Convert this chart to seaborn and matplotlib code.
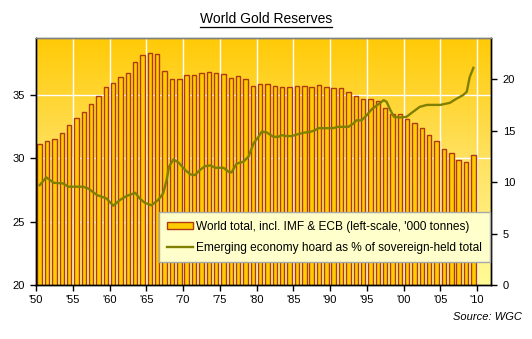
import numpy as np
import pandas as pd
import matplotlib
matplotlib.use("Agg")
import matplotlib.pyplot as plt
from matplotlib.patches import Patch
from matplotlib.lines import Line2D
from matplotlib.colors import LinearSegmentedColormap
import seaborn as sns

# ---------------- data ----------------
years = list(range(1950, 2010))
world_total = [31.14, 31.38, 31.54, 32.0, 32.65, 33.2, 33.67, 34.3, 34.94, 35.65,
               35.97, 36.44, 36.76, 37.63, 38.19, 38.35, 38.27, 36.92, 36.29, 36.29,
               36.6, 36.6, 36.76, 36.84, 36.76, 36.68, 36.37, 36.52, 36.29, 35.73,
               35.89, 35.89, 35.73, 35.65, 35.65, 35.73, 35.73, 35.65, 35.81, 35.65,
               35.57, 35.57, 35.26, 34.94, 34.7, 34.7, 34.55, 33.99, 33.51, 33.51,
               33.12, 32.8, 32.4, 31.85, 31.38, 30.74, 30.43, 29.87, 29.71, 30.27]

hoard_time = [1950.5, 1951.4, 1952.4, 1953.7, 1954.4, 1956.4, 1957.1, 1958.3, 1959.6, 1960.5,
              1961.4, 1962.3, 1963.5, 1964.1, 1964.8, 1965.7, 1966.6, 1967.3, 1967.8, 1968.1,
              1968.7, 1969.4, 1970.3, 1971.0, 1971.6, 1972.3, 1973.0, 1973.7, 1974.4, 1975.5,
              1976.2, 1976.6, 1977.3, 1978.2, 1978.9, 1979.6, 1980.2, 1980.7, 1981.4, 1982.3,
              1983.0, 1983.4, 1984.1, 1984.8, 1985.5, 1986.4, 1987.3, 1988.0, 1988.4, 1990.4,
              1991.1, 1992.5, 1993.2, 1993.6, 1994.3, 1995.0, 1995.7, 1996.6, 1997.3, 1997.7,
              1998.2, 1998.7, 1999.5, 2000.4, 2001.3, 2002.2, 2003.2, 2005.0, 2006.3, 2007.2,
              2008.1, 2008.6, 2009.0, 2009.5]
hoard_pct = [9.7, 10.46, 9.93, 9.87, 9.55, 9.55, 9.38, 8.74, 8.41, 7.7,
             8.25, 8.64, 8.96, 8.41, 7.99, 7.74, 8.25, 8.9, 10.3, 11.5,
             12.2, 11.9, 11.17, 10.75, 10.68, 11.17, 11.55, 11.62, 11.39, 11.39,
             11.0, 10.94, 11.8, 11.97, 12.46, 13.76, 14.34, 14.9, 14.82, 14.4,
             14.4, 14.56, 14.47, 14.47, 14.63, 14.79, 14.88, 15.05, 15.24, 15.24,
             15.37, 15.37, 15.7, 16.0, 16.0, 16.5, 17.1, 17.57, 17.96, 17.8,
             17.0, 16.34, 16.28, 16.34, 16.83, 17.31, 17.5, 17.5, 17.7, 18.1,
             18.45, 18.77, 20.2, 21.1]

xtick_years = list(range(1950, 2011, 5))
xtick_labels = ["'50", "'55", "'60", "'65", "'70", "'75", "'80", "'85", "'90",
                "'95", "'00", "'05", "'10"]
left_ticks = [20, 25, 30, 35]
right_ticks = [0, 5, 10, 15, 20]

title = "World Gold Reserves"
bar_label = "World total, incl. IMF & ECB (left-scale, '000 tonnes)"
line_label = "Emerging economy hoard as % of sovereign-held total"
source = "Source: WGC"

# ---------------- style ----------------
plt.rcParams['font.family'] = ['Liberation Sans', 'DejaVu Sans']
plt.rcParams['font.size'] = 8

bar_face = "#FFCC00"
bar_edge = "#B03A10"
line_col = "#808000"

fig = plt.figure(figsize=(5.32, 3.39), dpi=100)
W, H = 532, 339
L, R, T, B = 36, 491, 38, 285
ax = fig.add_axes([L / W, 1 - B / H, (R - L) / W, (B - T) / H])

# gradient background
grad = np.linspace(0, 1, 256).reshape(-1, 1)
cmap = LinearSegmentedColormap.from_list("bg", ["#FFCA06", "#FFE263", "#FFFB96"])
ax.imshow(grad, extent=[0, 1, 0, 1], transform=ax.transAxes, aspect="auto",
          cmap=cmap, zorder=0, interpolation="bilinear")

df = pd.DataFrame({"pos": [y + 0.5 for y in years], "total": world_total})
sns.barplot(data=df, x="pos", y="total", native_scale=True, width=0.6,
            color=bar_face, saturation=1, edgecolor=bar_edge, linewidth=1.0,
            errorbar=None, ax=ax, zorder=2)

ax.set_xlim(1950, 2011.9)
ax.set_ylim(20, 39.5)
ax.set_xticks(xtick_years)
ax.set_xticklabels(xtick_labels)
ax.set_yticks(left_ticks)
ax.set_xlabel("")
ax.set_ylabel("")

for xv in xtick_years:
    ax.axvline(xv, color="white", lw=1.0, zorder=1)
for yv in left_ticks[1:]:
    ax.axhline(yv, color="white", lw=1.0, zorder=1)

ax2 = ax.twinx()
dl = pd.DataFrame({"t": hoard_time, "pct": hoard_pct})
sns.lineplot(data=dl, x="t", y="pct", color=line_col, linewidth=1.7, ax=ax2)
ax2.set_ylim(0, 24)
ax2.set_yticks(right_ticks)
ax2.set_ylabel("")
ax2.set_xlim(1950, 2011.9)

for a in (ax, ax2):
    a.tick_params(direction="out", length=4.5, width=1, labelsize=8, colors="black")
    for s in ("left", "right", "bottom"):
        a.spines[s].set_color("black")
        a.spines[s].set_linewidth(1)
    a.spines["top"].set_color("#808080")
    a.spines["top"].set_linewidth(1)
ax.tick_params(axis="x", pad=3)
ax2.tick_params(axis="y", pad=4)

handles = [Patch(facecolor=bar_face, edgecolor=bar_edge, linewidth=1.0),
           Line2D([0], [0], color=line_col, lw=1.7)]
leg = ax2.legend(handles, [bar_label, line_label], loc="lower right",
                 bbox_to_anchor=(0.998, 0.093), frameon=True, fancybox=False,
                 framealpha=1, facecolor="#FFFFCC", edgecolor="#A8A8A8",
                 fontsize=8.6, handlelength=2.2, handleheight=0.5,
                 labelspacing=0.75, borderpad=0.7, handletextpad=0.2,
                 borderaxespad=0)
leg.get_frame().set_linewidth(1.0)

t = fig.text(0.5, 1 - 19 / H, title, ha="center", va="center", fontsize=10)
fig.text(522 / W, 1 - 317 / H, source, ha="right", va="center", fontsize=8,
         style="italic")

fig.canvas.draw()
bb = t.get_window_extent().transformed(fig.transFigure.inverted())
fig.add_artist(Line2D([bb.x0, bb.x1], [bb.y0 - 0.5 / H, bb.y0 - 0.5 / H],
                      transform=fig.transFigure, color="black", lw=0.9))

fig.savefig("out.png", dpi=100)
